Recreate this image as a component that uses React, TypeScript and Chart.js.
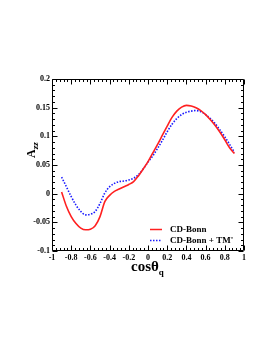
import React, { useEffect, useRef } from "react";
import { Chart, registerables } from "chart.js";

Chart.register(...registerables);

const cosTheta = [
  -0.9, -0.85, -0.8, -0.75, -0.7, -0.65, -0.6, -0.55, -0.5, -0.45, -0.4, -0.35, -0.3, -0.25, -0.2, -0.15, -0.1, -0.05,
  0, 0.05, 0.1, 0.15, 0.2, 0.25, 0.3, 0.35, 0.4, 0.45, 0.5, 0.55, 0.6, 0.65, 0.7, 0.75, 0.8, 0.85, 0.9,
];
const cdBonn = [
  0.003, -0.022, -0.04, -0.052, -0.06, -0.063, -0.062, -0.056, -0.04, -0.014, -0.003, 0.004, 0.008, 0.012, 0.016, 0.021,
  0.031, 0.043, 0.056, 0.071, 0.086, 0.102, 0.118, 0.133, 0.144, 0.151, 0.154, 0.153, 0.15, 0.145, 0.138, 0.129, 0.119,
  0.107, 0.094, 0.08, 0.07,
];
const cdBonnTM = [
  0.029, 0.012, -0.005, -0.02, -0.031, -0.037, -0.036, -0.031, -0.017, 0.001, 0.012, 0.018, 0.021, 0.022, 0.024, 0.027,
  0.033, 0.043, 0.055, 0.066, 0.079, 0.093, 0.108, 0.121, 0.131, 0.138, 0.142, 0.144, 0.145, 0.143, 0.138, 0.131, 0.122,
  0.111, 0.099, 0.086, 0.072,
];
const xTicks = [-1, -0.8, -0.6, -0.4, -0.2, 0, 0.2, 0.4, 0.6, 0.8, 1];
const xTickLabels = ["-1", "-0.8", "-0.6", "-0.4", "-0.2", "0", "0.2", "0.4", "0.6", "0.8", "1"];
const yTicks = [-0.1, -0.05, 0, 0.05, 0.1, 0.15, 0.2];
const yTickLabels = ["-0.1", "-0.05", "0", "0.05", "0.1", "0.15", "0.2"];
const seriesNames = ["CD-Bonn", "CD-Bonn + TM'"];

const FONT = '"Liberation Serif", "Times New Roman", serif';

const rootStyle = {
  id: "rootStyle",
  afterDraw(chart: any) {
    const { ctx, chartArea, scales } = chart;
    const { left, right, top, bottom } = chartArea;
    const x = scales.x;
    const y = scales.y;
    ctx.save();
    ctx.strokeStyle = "#000";
    ctx.lineWidth = 1;
    const L = Math.round(left) + 0.5;
    const R = Math.round(right) - 0.5;
    const T = Math.round(top) + 0.5;
    const B = Math.round(bottom) - 0.5;
    ctx.beginPath();
    ctx.rect(L, T, R - L, B - T);
    ctx.stroke();
    ctx.beginPath();
    for (let i = 0; i <= 50; i++) {
      const v = -1 + i * 0.04;
      const px = Math.round(x.getPixelForValue(v)) + 0.5;
      const len = i % 5 === 0 ? 5 : 2.5;
      ctx.moveTo(px, B);
      ctx.lineTo(px, B - len);
      ctx.moveTo(px, T);
      ctx.lineTo(px, T + len);
    }
    for (let i = 0; i <= 30; i++) {
      const v = -0.1 + i * 0.01;
      const py = Math.round(y.getPixelForValue(v)) + 0.5;
      const len = i % 5 === 0 ? 5 : 2.5;
      ctx.moveTo(L, py);
      ctx.lineTo(L + len, py);
      ctx.moveTo(R, py);
      ctx.lineTo(R - len, py);
    }
    ctx.stroke();

    // axis titles
    ctx.fillStyle = "#000";
    ctx.textBaseline = "alphabetic";
    ctx.textAlign = "left";
    ctx.font = `bold 15px ${FONT}`;
    const xt = "cosθ";
    const xw = ctx.measureText(xt).width;
    const xStart = 131;
    ctx.fillText(xt, xStart, 271);
    ctx.font = `bold 9px ${FONT}`;
    ctx.fillText("q", xStart + xw, 275);

    ctx.save();
    ctx.translate(35, 158);
    ctx.rotate(-Math.PI / 2);
    ctx.font = `bold 12px ${FONT}`;
    ctx.fillText("A", 0, 0);
    const aw = ctx.measureText("A").width;
    ctx.font = `bold italic 9px ${FONT}`;
    ctx.fillText("zz", aw, 3);
    ctx.restore();

    // legend
    ctx.lineWidth = 1.5;
    ctx.strokeStyle = "#ff2020";
    ctx.beginPath();
    ctx.moveTo(150, 229.5);
    ctx.lineTo(162, 229.5);
    ctx.stroke();
    ctx.strokeStyle = "#1a1aff";
    ctx.setLineDash([1.5, 1.5]);
    ctx.beginPath();
    ctx.moveTo(150, 240.5);
    ctx.lineTo(162, 240.5);
    ctx.stroke();
    ctx.setLineDash([]);
    ctx.font = `bold 9px ${FONT}`;
    ctx.textBaseline = "middle";
    ctx.fillText(seriesNames[0], 170, 229.5);
    ctx.fillText(seriesNames[1], 170, 240.5);
    ctx.restore();
  },
};

export default function App() {
  const ref = useRef<HTMLCanvasElement | null>(null);
  useEffect(() => {
    if (!ref.current) return;
    const tickFont = { family: FONT, size: 8, weight: "bold" as const };
    const chart = new Chart(ref.current, {
      type: "line",
      data: {
        datasets: [
          {
            label: seriesNames[0],
            data: cosTheta.map((c, i) => ({ x: c, y: cdBonn[i] })),
            borderColor: "#ff2020",
            borderWidth: 1.6,
            pointRadius: 0,
            cubicInterpolationMode: "monotone",
            fill: false,
          },
          {
            label: seriesNames[1],
            data: cosTheta.map((c, i) => ({ x: c, y: cdBonnTM[i] })),
            borderColor: "#1a1aff",
            borderWidth: 1.6,
            borderDash: [1.5, 1.5],
            pointRadius: 0,
            cubicInterpolationMode: "monotone",
            fill: false,
          },
        ],
      },
      options: {
        animation: false,
        responsive: false,
        maintainAspectRatio: false,
        layout: { padding: { left: 0, right: 29, top: 79, bottom: 0 } },
        plugins: { legend: { display: false }, tooltip: { enabled: false } },
        scales: {
          x: {
            type: "linear",
            min: -1,
            max: 1,
            grid: { display: false, drawTicks: false },
            border: { display: false },
            afterBuildTicks: (s: any) => {
              s.ticks = xTicks.map((v) => ({ value: v }));
            },
            afterFit: (s: any) => {
              s.height = 102;
            },
            ticks: {
              autoSkip: false,
              maxRotation: 0,
              padding: 2,
              color: "#000",
              font: tickFont,
              callback: (v: any) => {
                const i = xTicks.findIndex((t) => Math.abs(t - v) < 1e-6);
                return i >= 0 ? xTickLabels[i] : "";
              },
            },
          },
          y: {
            type: "linear",
            min: -0.1,
            max: 0.2,
            grid: { display: false, drawTicks: false },
            border: { display: false },
            afterBuildTicks: (s: any) => {
              s.ticks = yTicks.map((v) => ({ value: v }));
            },
            afterFit: (s: any) => {
              s.width = 52;
            },
            ticks: {
              autoSkip: false,
              padding: 2,
              color: "#000",
              font: tickFont,
              callback: (v: any) => {
                const i = yTicks.findIndex((t) => Math.abs(t - v) < 1e-6);
                return i >= 0 ? yTickLabels[i] : "";
              },
            },
          },
        },
      },
      plugins: [rootStyle],
    });
    return () => chart.destroy();
  }, []);
  return (
    <div style={{ position: "fixed", left: 0, top: 0, width: 273, height: 353, background: "#fff" }}>
      <canvas ref={ref} width={273} height={353} style={{ display: "block" }} />
    </div>
  );
}
